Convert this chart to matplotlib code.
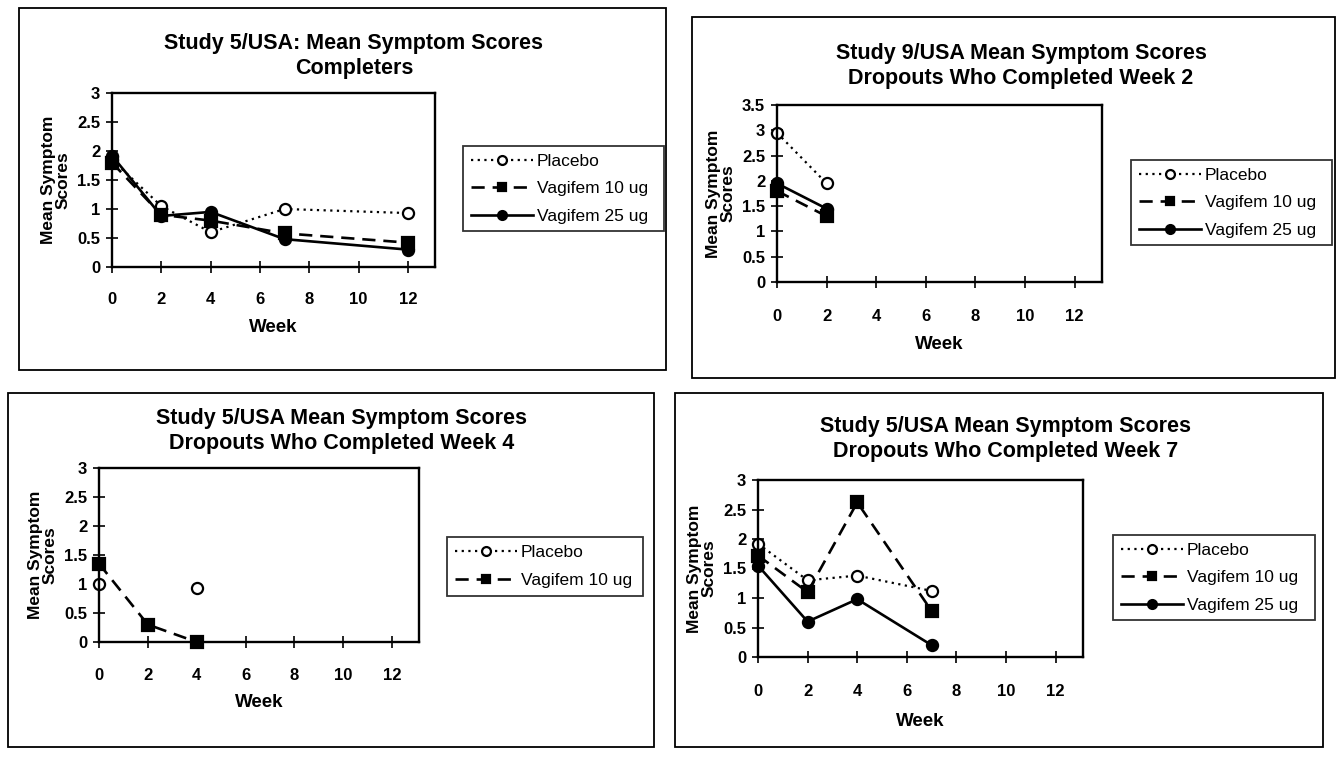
import matplotlib
matplotlib.use("Agg")
import matplotlib.pyplot as plt
import matplotlib.patches as patches
import numpy as np

plt.rcParams['font.family'] = ['Liberation Sans', 'DejaVu Sans']
plt.rcParams['font.weight'] = 'bold'

W, H = 1340, 757
PT = 100 / 72  # pixels per point

# --- data -------------------------------------------------------------
weeks_completers = [0, 2, 4, 7, 12]
completers_placebo = [1.85, 1.05, 0.6, 1.0, 0.93]
completers_v10 = [1.8, 0.9, 0.8, 0.58, 0.42]
completers_v25 = [1.92, 0.88, 0.95, 0.48, 0.3]

weeks_drop2 = [0, 2]
drop2_placebo = [2.95, 1.95]
drop2_v10 = [1.8, 1.3]
drop2_v25 = [1.95, 1.45]

weeks_drop4 = [0, 2, 4]
drop4_placebo = [1.0, np.nan, 0.93]
drop4_v10 = [1.35, 0.3, 0.0]

weeks_drop7 = [0, 2, 4, 7]
drop7_placebo = [1.92, 1.3, 1.38, 1.12]
drop7_v10 = [1.72, 1.1, 2.62, 0.78]
drop7_v25 = [1.55, 0.6, 0.98, 0.2]

week_ticks = [0, 2, 4, 6, 8, 10, 12]
score_ticks = [0, 0.5, 1, 1.5, 2, 2.5, 3]
score_ticks_35 = [0, 0.5, 1, 1.5, 2, 2.5, 3, 3.5]

styles = {
    'Placebo': dict(ls=(0, (1, 2)), marker='o', mfc='white', lw=1.6),
    'Vagifem 10 ug': dict(ls=(0, (5, 3)), marker='s', mfc='black', lw=1.9),
    'Vagifem 25 ug': dict(ls='-', marker='o', mfc='black', lw=1.9),
}

fig = plt.figure(figsize=(W / 100, H / 100), dpi=100)
fig.patch.set_facecolor('white')


def fx(px):
    return px / W


def fy(py):
    return 1 - py / H


def panel(box, plot, legend_box, title, weeks, series, ymax, yticks,
          title_y, tick_y, week_y):
    # outer frame round the whole chart
    x0, y0, x1, y1 = box
    fig.patches.append(patches.Rectangle((fx(x0), fy(y1)), fx(x1 - x0), (y1 - y0) / H,
                                         transform=fig.transFigure, fill=False,
                                         edgecolor='black', lw=1.3))
    px0, py0, px1, py1 = plot
    ax = fig.add_axes([fx(px0), fy(py1), fx(px1 - px0), (py1 - py0) / H])
    ax.set_facecolor('none')
    handles = []
    for name, vals in series:
        st = styles[name]
        h, = ax.plot(weeks, vals, color='black', linestyle=st['ls'], lw=st['lw'],
                     marker=st['marker'], markersize=8, markerfacecolor=st['mfc'],
                     markeredgecolor='black', markeredgewidth=1.6,
                     label=name, clip_on=False)
        handles.append(h)
    ax.set_xlim(0, 13.1)
    ax.set_ylim(0, ymax)
    ax.set_xticks(week_ticks)
    ax.set_yticks(yticks)
    ax.set_yticklabels([f'{t:g}' for t in yticks])
    ax.tick_params(axis='both', direction='inout', length=9, width=1.2,
                   labelsize=12, pad=4)
    ax.tick_params(axis='x', pad=(tick_y - py1 - 10.5) / PT)
    for lab in ax.get_xticklabels() + ax.get_yticklabels():
        lab.set_fontweight('bold')
    for sp in ax.spines.values():
        sp.set_linewidth(1.7)
    ax.set_xlabel('Week', fontsize=13.5, fontweight='bold',
                  labelpad=(week_y - tick_y - 15) / PT)
    ax.set_ylabel('Mean Symptom\nScores', fontsize=12.5, fontweight='bold',
                  linespacing=0.95, labelpad=5)
    fig.text(fx((px0 + x1) / 2 - 35), fy(title_y), title, ha='center', va='center',
             fontsize=15.5, fontweight='bold', linespacing=1.3)
    lx0, ly0, lx1, ly1 = legend_box
    leg = ax.legend(handles=handles, loc='upper left',
                    bbox_to_anchor=(fx(lx0), fy(ly1), fx(lx1 - lx0), (ly1 - ly0) / H),
                    bbox_transform=fig.transFigure, mode='expand',
                    prop={'size': 12.5, 'weight': 'normal'}, frameon=True,
                    fancybox=False, edgecolor='black', markerscale=0.8,
                    handlelength=3.6, handletextpad=0.2, borderpad=0.45,
                    labelspacing=(0.7 if len(handles) == 3 else 0.75), borderaxespad=0)
    leg.get_frame().set_linewidth(1.3)
    return ax


panel((19, 8, 666, 370), (112, 93, 435, 267), (463, 146, 664, 234),
      'Study 5/USA: Mean Symptom Scores\nCompleters', weeks_completers,
      [('Placebo', completers_placebo), ('Vagifem 10 ug', completers_v10),
       ('Vagifem 25 ug', completers_v25)],
      3, score_ticks, 56, 296, 323)

panel((692, 17, 1335, 378), (777, 105, 1102, 282), (1131, 160, 1332, 250),
      'Study 9/USA Mean Symptom Scores\nDropouts Who Completed Week 2', weeks_drop2,
      [('Placebo', drop2_placebo), ('Vagifem 10 ug', drop2_v10),
       ('Vagifem 25 ug', drop2_v25)],
      3.5, score_ticks_35, 66, 313, 340)

panel((8, 393, 654, 747), (99, 468, 419, 642), (447, 537, 643, 598),
      'Study 5/USA Mean Symptom Scores\nDropouts Who Completed Week 4', weeks_drop4,
      [('Placebo', drop4_placebo), ('Vagifem 10 ug', drop4_v10)],
      3, score_ticks, 431, 672, 698)

panel((675, 393, 1323, 747), (758, 480, 1083, 657), (1113, 535, 1315, 625),
      'Study 5/USA Mean Symptom Scores\nDropouts Who Completed Week 7', weeks_drop7,
      [('Placebo', drop7_placebo), ('Vagifem 10 ug', drop7_v10),
       ('Vagifem 25 ug', drop7_v25)],
      3, score_ticks, 439, 688, 717)

fig.savefig('out.png', dpi=100, facecolor='white')
